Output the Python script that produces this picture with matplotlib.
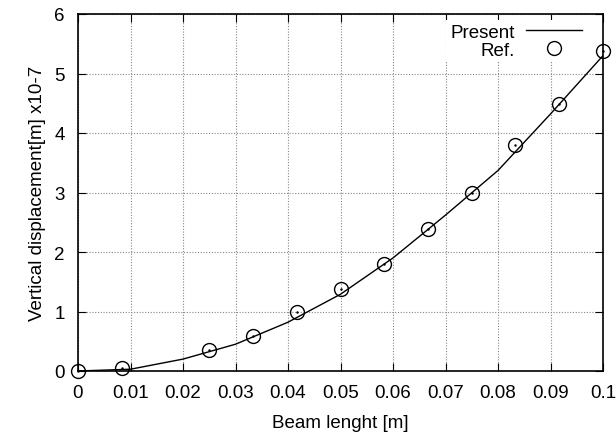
import matplotlib
matplotlib.use("Agg")
import matplotlib.pyplot as plt

plt.rcParams['font.family'] = ['Liberation Sans', 'DejaVu Sans']

# Present (line)
x_present = [0.0, 0.01, 0.02, 0.03, 0.04, 0.05, 0.06, 0.07, 0.08, 0.09, 0.1]
y_present = [0.0, 0.03, 0.20, 0.45, 0.82, 1.29, 1.90, 2.62, 3.37, 4.32, 5.30]

# Ref. (circles)
x_ref = [0.0, 0.00833, 0.025, 0.03333, 0.04167, 0.05, 0.05833, 0.06667, 0.075, 0.08333, 0.09167, 0.1]
y_ref = [0.0, 0.05, 0.35, 0.58, 1.00, 1.38, 1.80, 2.39, 3.00, 3.80, 4.49, 5.37]

x_ticks = [0, 0.01, 0.02, 0.03, 0.04, 0.05, 0.06, 0.07, 0.08, 0.09, 0.1]
x_tick_labels = ['0', '0.01', '0.02', '0.03', '0.04', '0.05', '0.06', '0.07', '0.08', '0.09', '0.1']
y_ticks = [0, 1, 2, 3, 4, 5, 6]

FS = 13.5

fig = plt.figure(figsize=(6.16, 4.35), dpi=100)
W, H = 616, 435
ax = fig.add_axes([78 / W, 1 - 372 / H, (603 - 78) / W, (372 - 15) / H])

ax.plot(x_present, y_present, color='black', lw=1.0, label='Present', zorder=3)
ax.plot(x_ref, y_ref, ls='none', marker='o', ms=10, mfc='none', mec='black', mew=1.0,
        label='Ref.', zorder=4, clip_on=False)
ax.plot(x_ref, y_ref, ls='none', marker='.', ms=1.5, color='black', zorder=4, clip_on=False)

ax.set_xlim(0, 0.1)
ax.set_ylim(0, 6)
ax.set_xticks(x_ticks)
ax.set_xticklabels(x_tick_labels)
ax.set_yticks(y_ticks)
ax.tick_params(direction='in', top=True, right=True, length=6, labelsize=FS, pad=9.5)
ax.grid(True, color='#888888', ls=(0, (1, 1.5)), lw=0.8)
for s in ax.spines.values():
    s.set_linewidth(1.2)

ax.set_xlabel('Beam lenght [m]', fontsize=FS, labelpad=9.5)
ax.set_ylabel('Vertical displacement[m] x10-7', fontsize=FS, labelpad=6)

leg = ax.legend(loc='upper right', bbox_to_anchor=(0.985, 1.01), markerfirst=False,
                frameon=True, framealpha=1, edgecolor='none', facecolor='white',
                fontsize=FS, handlelength=3.0, borderpad=0.2, labelspacing=0.05,
                handletextpad=0.6, fancybox=False)

fig.savefig('out.png', dpi=100)
